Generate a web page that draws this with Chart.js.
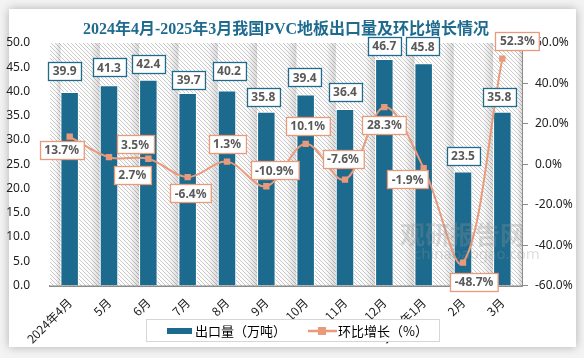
<!DOCTYPE html>
<html>
<head>
<meta charset="utf-8">
<script src="https://cdn.jsdelivr.net/npm/chart.js@4.4.1/dist/chart.umd.min.js"></script>
<style>
  html, body { margin: 0; padding: 0; background: #f3f3f3; }
  #wrap { position: relative; width: 584px; height: 358px; overflow: hidden; }
  #card { position: absolute; left: 9px; top: 9px; width: 567px; height: 338px; background: #fff;
          box-shadow: 0 0 9px rgba(0,0,0,0.28); }
  #chart { position: absolute; left: 0; top: 0; }
</style>
</head>
<body>
<div id="wrap">
  <div id="card"></div>
  <canvas id="chart" width="584" height="358"></canvas>
</div>
<script>
// data
const categories = ["2024年4月", "5月", "6月", "7月", "8月", "9月", "10月", "11月", "12月", "2025年1月", "2月", "3月"];
const exportVolume = [39.9, 41.3, 42.4, 39.7, 40.2, 35.8, 39.4, 36.4, 46.7, 45.8, 23.5, 35.8];
const momGrowth = [13.7, 3.5, 2.7, -6.4, 1.3, -10.9, 10.1, -7.6, 28.3, -1.9, -48.7, 52.3];
const volumeTicks = { min: 0, max: 50, step: 5 };
const growthTicks = { min: -60, max: 60, step: 20 };

// where each data label sits relative to its mark (px)
const barLabelDx = [-5, 0, 0, 1, 2, -3, -1, 0, 0, -1, 0, -3];
const barLabelDy = [-21, -18, -16, -13, -20, -15, -17, -17, -13, -17, -16, -15];
const lineLabelDx = [-8, 26, -16, 3, 0, 8, 2, -2, 0, -16, 11, 15];
const lineLabelDy = [13, -13, 16, 16, -18, -16, -18, -21, 18, 11, 19, -18];

const BAR_COLOR = "#1c6a8e";
const LINE_COLOR = "#e99a7b";
const LABEL_FONT = 'bold 12px "Noto Sans", "DejaVu Sans", sans-serif';

function hatchPattern(ctx) {
    const c = document.createElement("canvas");
    const p = 4;
    c.width = p; c.height = p;
    const g = c.getContext("2d");
    g.fillStyle = "#ffffff";
    g.fillRect(0, 0, p, p);
    g.strokeStyle = "#cbcbcb";
    g.lineWidth = 1;
    g.beginPath();
    g.moveTo(-1, -1); g.lineTo(p + 1, p + 1);
    g.moveTo(-1, p - 1); g.lineTo(1, p + 1);
    g.moveTo(p - 1, -1); g.lineTo(p + 1, 1);
    g.stroke();
    return ctx.createPattern(c, "repeat");
}

function labelBox(ctx, text, cx, cy, border) {
    ctx.font = LABEL_FONT;
    const w = ctx.measureText(text).width + 9;
    const h = 18;
    const x = Math.round(cx - w / 2) + 0.5, y = Math.round(cy - h / 2) + 0.5;
    ctx.fillStyle = "#ffffff";
    ctx.fillRect(x, y, w, h);
    ctx.strokeStyle = border;
    ctx.lineWidth = 1.3;
    ctx.strokeRect(x, y, w, h);
    ctx.fillStyle = "#595959";
    ctx.textAlign = "center";
    ctx.textBaseline = "middle";
    ctx.fillText(text, cx, cy + 1);
}

const backdrop = {
    id: "backdrop",
    beforeDatasetsDraw(chart) {
        const { ctx, chartArea: a } = chart;
        ctx.save();
        ctx.fillStyle = hatchPattern(ctx);
        ctx.fillRect(a.left, a.top, a.right - a.left, a.bottom - a.top);
        // soft shading in each gap, darker next to the following bar
        const bars = chart.getDatasetMeta(0).data;
        let edges = [a.left];
        bars.forEach(b => { edges.push(b.x - b.width / 2); edges.push(b.x + b.width / 2); });
        edges.push(a.right);
        for (let i = 0; i < edges.length; i += 2) {
            const l = edges[i], r = edges[i + 1];
            if (r - l < 2) continue;
            const gr = ctx.createLinearGradient(l, 0, r, 0);
            gr.addColorStop(0, "rgba(0,0,0,0)");
            gr.addColorStop(0.55, "rgba(0,0,0,0.02)");
            gr.addColorStop(1, "rgba(0,0,0,0.15)");
            ctx.fillStyle = gr;
            ctx.fillRect(l, a.top, r - l, a.bottom - a.top);
        }
        ctx.restore();
    },
    afterDatasetsDraw(chart) {
        const { ctx } = chart;
        ctx.save();
        // watermark
        ctx.fillStyle = "rgba(150,150,150,0.3)";
        ctx.textAlign = "left";
        ctx.textBaseline = "middle";
        ctx.font = 'bold 25px "Noto Sans CJK SC", sans-serif';
        ctx.fillText("观研报告网", 400, 234);
        ctx.font = '15px "Noto Sans", sans-serif';
        ctx.fillText("chinabaogao.com", 414, 255);

        const bars = chart.getDatasetMeta(0).data;
        bars.forEach((b, i) => {
            labelBox(ctx, exportVolume[i].toFixed(1), b.x + barLabelDx[i], b.y + barLabelDy[i], "#1f6b8d");
        });
        const pts = chart.getDatasetMeta(1).data;
        pts.forEach((p, i) => {
            labelBox(ctx, momGrowth[i].toFixed(1) + "%", p.x + lineLabelDx[i], p.y + lineLabelDy[i], LINE_COLOR);
        });
        ctx.restore();
    },
    afterDraw(chart) {
        const { ctx } = chart;
        ctx.save();
        // title
        ctx.fillStyle = "#1e6b8f";
        ctx.font = 'bold 16px "Liberation Serif", "Noto Sans CJK SC", serif';
        ctx.textAlign = "center";
        ctx.textBaseline = "middle";
        ctx.fillText("2024年4月-2025年3月我国PVC地板出口量及环比增长情况", 286, 30);

        // legend
        ctx.strokeStyle = "#d6d6d6";
        ctx.lineWidth = 1;
        ctx.fillStyle = "#ffffff";
        ctx.fillRect(146.5, 319.5, 293, 22);
        ctx.strokeRect(146.5, 319.5, 293, 22);
        const ds = chart.data.datasets;
        ctx.font = '13px "Noto Sans CJK SC", sans-serif';
        ctx.textAlign = "left";
        ctx.fillStyle = BAR_COLOR;
        ctx.fillRect(167, 328, 25, 6);
        ctx.fillStyle = "#000";
        ctx.fillText(ds[0].label, 195, 331);
        ctx.strokeStyle = LINE_COLOR;
        ctx.lineWidth = 2.5;
        ctx.beginPath();
        ctx.moveTo(308, 331); ctx.lineTo(337, 331);
        ctx.stroke();
        ctx.fillStyle = LINE_COLOR;
        ctx.fillRect(318, 327, 8, 8);
        ctx.fillStyle = "#000";
        ctx.fillText(ds[1].label, 338, 331);
        ctx.restore();
    }
};

new Chart(document.getElementById("chart"), {
    data: {
        labels: categories,
        datasets: [
            {
                type: "bar",
                label: "出口量（万吨）",
                data: exportVolume,
                yAxisID: "y",
                backgroundColor: BAR_COLOR,
                borderColor: "#ffffff",
                borderWidth: 1,
                barPercentage: 0.47,
                categoryPercentage: 1,
                order: 1,
            },
            {
                type: "line",
                label: "环比增长（%）",
                data: momGrowth,
                yAxisID: "y1",
                borderColor: LINE_COLOR,
                backgroundColor: LINE_COLOR,
                borderWidth: 2,
                tension: 0.35,
                pointStyle: "rect",
                pointRadius: 4.5,
                pointBorderWidth: 0,
                fill: false,
                order: 0,
            },
        ],
    },
    options: {
        responsive: false,
        animation: false,
        layout: { padding: { top: 43, left: 0, right: 0, bottom: 0 } },
        plugins: { legend: { display: false }, tooltip: { enabled: false } },
        scales: {
            x: {
                offset: true,
                grid: { display: false },
                border: { display: true, color: "#8c8c8c", width: 2 },
                ticks: {
                    maxRotation: 45, minRotation: 45, autoSkip: false, padding: 2,
                    color: "#222", font: { size: 12, family: '"Noto Sans CJK SC", sans-serif' },
                },
                afterFit(scale) { scale.height = 72.5; },
            },
            y: {
                position: "left",
                min: volumeTicks.min, max: volumeTicks.max,
                grid: { display: false },
                border: { display: false },
                ticks: {
                    stepSize: volumeTicks.step, padding: 12, color: "#222",
                    font: { size: 12, family: '"Noto Sans", sans-serif' },
                    callback: v => v.toFixed(1),
                },
                afterFit(scale) { scale.width = 50; },
            },
            y1: {
                position: "right",
                min: growthTicks.min, max: growthTicks.max,
                grid: { display: true, drawOnChartArea: false, drawTicks: true, tickLength: 6, color: "#8c8c8c" },
                border: { display: true, color: "#8c8c8c", width: 1 },
                ticks: {
                    stepSize: growthTicks.step, padding: 7, color: "#222",
                    font: { size: 12, family: '"Noto Sans", sans-serif' },
                    callback: v => v.toFixed(1) + "%",
                },
                afterFit(scale) { scale.width = 62; },
            },
        },
    },
    plugins: [backdrop],
});
</script>
</body>
</html>
